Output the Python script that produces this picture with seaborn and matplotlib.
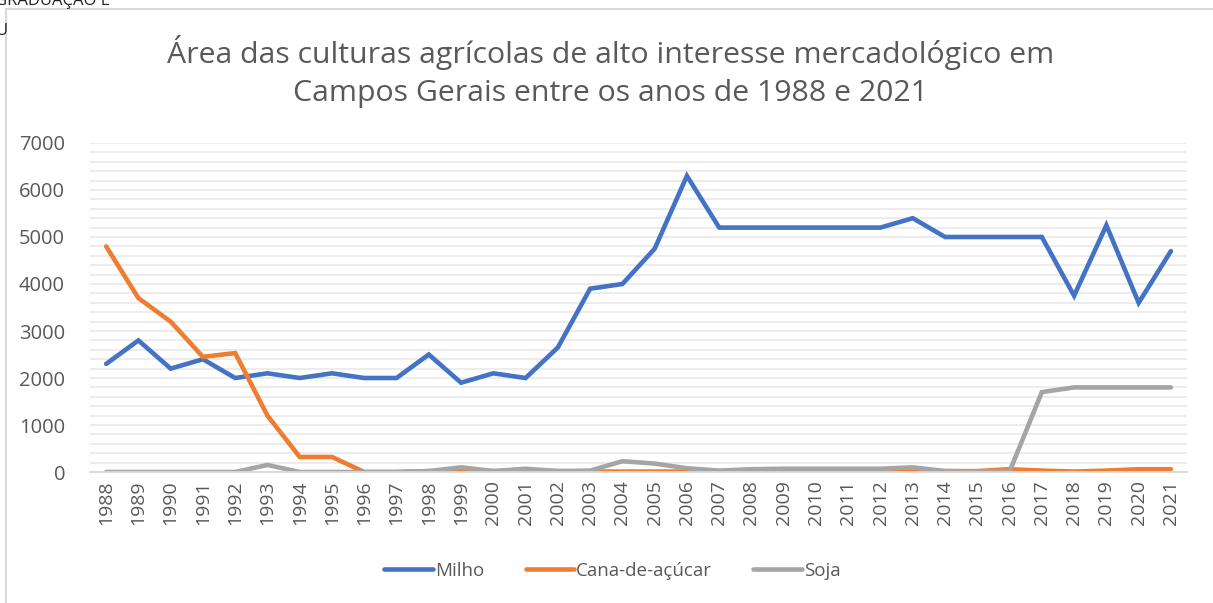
import numpy as np
import pandas as pd
import seaborn as sns
import matplotlib.pyplot as plt
from matplotlib.patches import Rectangle
from matplotlib.ticker import MultipleLocator

anos = list(range(1988, 2022))
milho = [2300, 2800, 2200, 2400, 2000, 2100, 2000, 2100, 2000, 2000,
         2500, 1900, 2100, 2000, 2650, 3900, 4000, 4750, 6300, 5200,
         5200, 5200, 5200, 5200, 5200, 5400, 5000, 5000, 5000, 5000,
         3750, 5250, 3600, 4700]
cana = [4800, 3700, 3200, 2450, 2530, 1200, 320, 320, 0, 0,
        20, 20, 20, 20, 20, 10, 10, 10, 10, 10,
        10, 10, 10, 10, 10, 10, 20, 20, 60, 30,
        10, 30, 60, 60]
soja = [0, 0, 0, 0, 0, 150, 0, 0, 0, 0,
        20, 100, 20, 70, 20, 30, 230, 180, 80, 30,
        60, 70, 70, 70, 70, 100, 20, 10, 10, 1700,
        1800, 1800, 1800, 1800]
series = ["Milho", "Cana-de-açúcar", "Soja"]
cores = ["#4472C4", "#ED7D31", "#A5A5A5"]

df = pd.DataFrame({"ano": anos, "Milho": milho, "Cana-de-açúcar": cana, "Soja": soja})
df = df.melt(id_vars="ano", var_name="cultura", value_name="area")

sns.set_theme(style="white")
plt.rcParams["font.family"] = ["Open Sans", "DejaVu Sans"]
cinza = "#595959"

fig = plt.figure(figsize=(12.13, 6.03), dpi=100)
ax = fig.add_axes([0.0742, 0.2172, 0.9044, 0.5457])

sns.lineplot(data=df, x="ano", y="area", hue="cultura", hue_order=series,
             palette=cores, linewidth=3.3, ax=ax, legend=False)
for ln in ax.get_lines():
    ln.set_solid_capstyle("round")
    ln.set_solid_joinstyle("miter")

ax.set_xlim(1987.5, 2021.5)
ax.set_ylim(0, 7000)
ax.yaxis.set_major_locator(MultipleLocator(1000))
ax.yaxis.set_minor_locator(MultipleLocator(200))
ax.set_xticks(anos)
ax.set_xticklabels([str(a) for a in anos], rotation=90)
ax.grid(axis="y", which="both", color="#EBEBEB", linewidth=1.3)
ax.set_axisbelow(True)
ax.tick_params(axis="both", which="both", length=0, labelsize=14, colors=cinza, pad=6)
ax.tick_params(axis="y", pad=18, labelsize=14.5)
ax.set_xlabel("")
ax.set_ylabel("")
for s in ["top", "right", "left"]:
    ax.spines[s].set_visible(False)
ax.spines["bottom"].set_color("#D9D9D9")
ax.spines["bottom"].set_linewidth(1.3)

fig.text(0.503, 0.881, "Área das culturas agrícolas de alto interesse mercadológico em\nCampos Gerais entre os anos de 1988 e 2021",
         ha="center", va="center", fontsize=21.8, color=cinza, linespacing=1.42)

handles = [plt.Line2D([], [], color=c, linewidth=3.3, solid_capstyle="round") for c in cores]
fig.legend(handles, series, loc="center", bbox_to_anchor=(0.505, 0.053), ncol=3, frameon=False,
           fontsize=13.5, labelcolor=cinza, handlelength=2.6, handletextpad=0.1, columnspacing=2.2)

fig.patches.append(Rectangle((6 / 1213, -0.1), 1.2, 1.1 - 9 / 603, transform=fig.transFigure,
                             fill=False, edgecolor="#D9D9D9", linewidth=1.5))
fig.text(-0.004, 1.0, "GRADUAÇÃO E", ha="left", va="center", fontsize=12, color="#222222")
fig.text(-0.004, 0.948, "U", ha="left", va="center", fontsize=12, color="#222222")

fig.savefig("out.png", dpi=100)
